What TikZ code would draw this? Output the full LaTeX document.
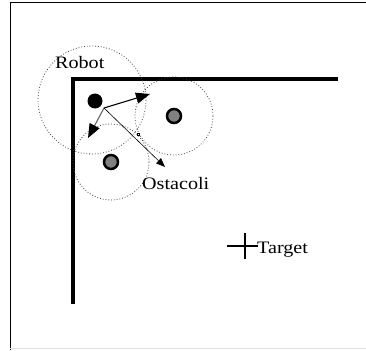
\documentclass[tikz,border=0pt]{standalone}
\usepackage{fontspec}
\setmainfont{Liberation Serif}
\usetikzlibrary{arrows.meta}
\tikzset{
  wall/.style={line width=4.5pt},
  zone/.style={draw=black!75, dotted, line width=0.8pt},
  robotdot/.style={circle, fill=black, inner sep=0pt, minimum size=15pt},
  obst/.style={circle, draw=black, line width=2.5pt, fill=black!50, inner sep=0pt, minimum size=14pt},
  lbl/.style={inner sep=0pt, anchor=base west, font=\fontsize{17.5}{18}\selectfont},
  bigarrow/.style={-{Triangle[length=14pt,width=11pt,color=black]}, line width=1.1pt},
  thinarrow/.style={-{Triangle[length=9pt,width=7pt]}, line width=0.6pt},
}
\begin{document}
\begin{tikzpicture}[x=1pt,y=-1pt]
\useasboundingbox (0,0) rectangle (366,350);
\fill[white] (0,0) rectangle (366,350);
% frame (top and left)
\draw[line width=1pt] (10,350) -- (10,3) -- (366,3);
\draw[black!12, line width=0.8pt] (10,348) -- (366,348);
% walls
\draw[wall] (73,304) -- (73,79) -- (338,79);
% influence circles
\draw[zone] (92,100) circle (54);
\draw[zone] (174,116) circle (39);
\draw[zone] (111,162) circle (38);
% robot and obstacles
\node[robotdot] (robot) at (95,101) {};
\node[obst] (ob1) at (174,116) {};
\node[obst] (ob2) at (111,162) {};
% vectors
\coordinate (o) at (104,108);
\coordinate (t1) at (150,94);
\coordinate (t2) at (88,138);
\coordinate (t3) at (165,167);
\draw[bigarrow] (o) -- (t1);
\draw[bigarrow, draw=black!60] (o) -- (t2);
\draw[thinarrow] (o) -- (t3);
\node[draw, line width=0.5pt, inner sep=0pt, minimum size=2.5pt] (sq) at (138,134) {};
% target
\coordinate (tc) at (245,246);
\draw[line width=2pt] (227,246) -- (258,246);
\draw[line width=2pt] (245,233) -- (245,259);
% labels
\node[lbl] (lrobot) at (55,69) {\scalebox{1.15}[1]{Robot}};
\node[lbl] (lost) at (142,189) {\scalebox{1.15}[1]{Ostacoli}};
\node[lbl] (ltarget) at (257,253) {\scalebox{1.15}[1]{Target}};
\end{tikzpicture}
\end{document}
